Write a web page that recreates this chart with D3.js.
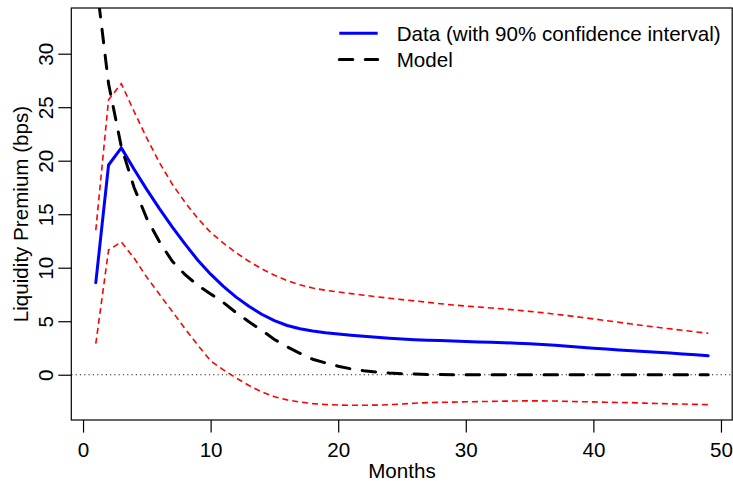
<!DOCTYPE html>
<html>
<head>
<meta charset="utf-8">
<script src="https://cdnjs.cloudflare.com/ajax/libs/d3/7.8.5/d3.min.js"></script>
<style>
  body { margin: 0; background: #fff; }
  svg { display: block; font-family: "Liberation Sans", Arial, Helvetica, sans-serif; }
</style>
</head>
<body>
<div id="chart"></div>
<script>
// months 1..49
const months = [1,2,3,4,5,6,7,8,9,10,11,12,13,14,15,16,17,18,19,20,21,22,23,24,25,
  26,27,28,29,30,31,32,33,34,35,36,37,38,39,40,41,42,43,44,45,46,47,48,49]

// estimated liquidity premium (bps)
const dataVals = [8.6,19.6,21.2,19.2,17.3,15.5,13.8,12.2,10.7,9.4,8.25,7.25,6.4,5.65,5.05,
  4.6,4.3,4.08,3.92,3.8,3.7,3.6,3.5,3.41,3.34,3.28,3.23,3.19,3.15,3.11,3.07,3.03,2.99,2.95,
  2.9,2.83,2.75,2.66,2.57,2.48,2.4,2.32,2.24,2.17,2.1,2.02,1.94,1.86,1.78]

// 90% confidence band
const upperVals = [13.5,25.7,27.2,24.6,22.1,19.8,17.8,16.1,14.6,13.3,12.3,11.4,10.6,9.9,9.3,
  8.8,8.4,8.1,7.9,7.73,7.58,7.43,7.29,7.15,7.02,6.9,6.77,6.64,6.52,6.42,6.33,6.24,6.14,6.03,
  5.92,5.8,5.66,5.52,5.37,5.22,5.06,4.9,4.74,4.58,4.43,4.29,4.15,4.01,3.87]
const lowerVals = [2.9,11.65,12.4,10.9,9.1,7.5,5.9,4.3,2.75,1.3,0.45,-0.3,-1.0,-1.6,-2.05,
  -2.35,-2.55,-2.7,-2.78,-2.83,-2.85,-2.85,-2.84,-2.8,-2.73,-2.66,-2.61,-2.58,-2.56,-2.53,
  -2.51,-2.49,-2.47,-2.45,-2.44,-2.44,-2.46,-2.49,-2.52,-2.54,-2.57,-2.59,-2.61,-2.65,
  -2.69,-2.72,-2.74,-2.77,-2.79]

// model implied premium
const modelVals = [37.1,27.2,21.3,17.5,14.6,12.4,10.6,9.35,8.35,7.55,6.75,5.8,4.95,4.15,3.3,
  2.6,2.0,1.45,1.1,0.8,0.55,0.38,0.25,0.16,0.1,0.06,0.03,0.02,0,0,0,0,0,0,0,0,0,0,0,0,
  0,0,0,0,0,0,0,0,0]

const xTicks = [0,10,20,30,40,50]
const yTicks = [0,5,10,15,20,25,30]
const legendLabels = ["Data (with 90% confidence interval)", "Model"]

const w = 733
const h = 481
const fs = 20.6

const svg = d3.select("#chart").append("svg")
  .attr("width", w)
  .attr("height", h)

const x = d3.scaleLinear().domain([-0.92, 50.92]).range([71.3, 732.7])
const y = d3.scaleLinear().domain([-4.23, 34.27]).range([420, 8])

// clip region = plot box
svg.append("clipPath").attr("id", "clip")
  .append("rect")
  .attr("x", x.range()[0]).attr("y", y.range()[1])
  .attr("width", x.range()[1] - x.range()[0])
  .attr("height", y.range()[0] - y.range()[1])

const line = vals => d3.line()
  .x((d, i) => x(months[i]))
  .y(d => y(d))(vals)

const plot = svg.append("g").attr("clip-path", "url(#clip)")

// zero reference line
plot.append("line")
  .attr("x1", x.range()[0]).attr("x2", x.range()[1])
  .attr("y1", y(0)).attr("y2", y(0))
  .attr("stroke", "#222")
  .attr("stroke-width", 1.1)
  .attr("stroke-dasharray", "1.2,3.1")

// confidence band
;[upperVals, lowerVals].forEach(vals => {
  plot.append("path")
    .attr("d", line(vals))
    .attr("fill", "none")
    .attr("stroke", "#ff0000")
    .attr("stroke-width", 1.6)
    .attr("stroke-dasharray", "6,4")
})

// data
plot.append("path")
  .attr("d", line(dataVals))
  .attr("fill", "none")
  .attr("stroke", "#0000ff")
  .attr("stroke-width", 3)
  .attr("stroke-linejoin", "round")
  .attr("stroke-linecap", "round")

// model
plot.append("path")
  .attr("d", line(modelVals))
  .attr("fill", "none")
  .attr("stroke", "#000")
  .attr("stroke-width", 3)
  .attr("stroke-linecap", "round")
  .attr("stroke-dasharray", "13.5,12.5")

// box
svg.append("rect")
  .attr("x", x.range()[0]).attr("y", y.range()[1])
  .attr("width", x.range()[1] - x.range()[0] - 0.5)
  .attr("height", y.range()[0] - y.range()[1])
  .attr("fill", "none")
  .attr("stroke", "#000")
  .attr("stroke-width", 1.2)

// axes
const xAxis = svg.append("g")
  .attr("transform", `translate(0,${y.range()[0]})`)
  .call(d3.axisBottom(x).tickValues(xTicks).tickSize(12.6).tickSizeOuter(0).tickPadding(9.5))
xAxis.select(".domain").remove()
xAxis.selectAll("line").attr("stroke-width", 1.2)
xAxis.selectAll("text").attr("font-size", fs).attr("font-family", null).attr("fill", "#000")

const yAxis = svg.append("g")
  .attr("transform", `translate(${x.range()[0]},0)`)
  .call(d3.axisLeft(y).tickValues(yTicks).tickSize(13).tickSizeOuter(0))
yAxis.select(".domain").remove()
yAxis.selectAll("line").attr("stroke-width", 1.2)
yAxis.selectAll("text")
  .attr("x", null).attr("dy", null)
  .attr("transform", "translate(-18.5,0) rotate(-90)")
  .attr("text-anchor", "middle")
  .attr("font-size", fs).attr("font-family", null).attr("fill", "#000")

// axis titles
svg.append("text")
  .attr("x", (x.range()[0] + x.range()[1]) / 2)
  .attr("y", 477.5)
  .attr("text-anchor", "middle")
  .attr("font-size", fs)
  .text("Months")

svg.append("text")
  .attr("transform", `translate(27.5,${(y.range()[0] + y.range()[1]) / 2}) rotate(-90)`)
  .attr("text-anchor", "middle")
  .attr("font-size", fs)
  .text("Liquidity Premium (bps)")

// legend
const legend = svg.append("g")
const legY = [33.3, 59.5]
legend.append("line")
  .attr("x1", 339.3).attr("x2", 377.7)
  .attr("y1", legY[0]).attr("y2", legY[0])
  .attr("stroke", "#0000ff").attr("stroke-width", 3)
legend.append("line")
  .attr("x1", 339.3).attr("x2", 377.7)
  .attr("y1", legY[1]).attr("y2", legY[1])
  .attr("stroke", "#000").attr("stroke-width", 3)
  .attr("stroke-linecap", "round")
  .attr("stroke-dasharray", "13.5,12.5")
legend.selectAll("text.leg")
  .data(legendLabels)
  .enter()
  .append("text")
  .attr("class", "leg")
  .attr("x", 396.7)
  .attr("y", (d, i) => legY[i] + 7.2)
  .attr("font-size", fs)
  .text(d => d)
</script>
</body>
</html>
